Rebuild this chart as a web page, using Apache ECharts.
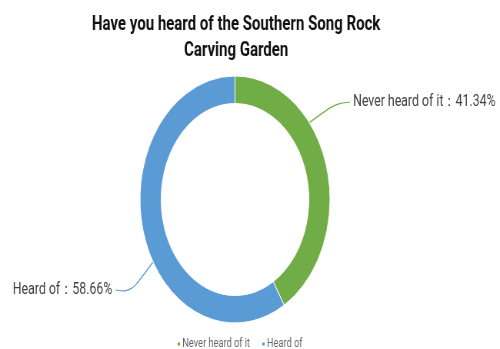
<!DOCTYPE html>
<html>
<head>
<meta charset="utf-8">
<script src="https://cdn.jsdelivr.net/npm/echarts@6/dist/echarts.min.js"></script>
<style>
  html, body { margin: 0; padding: 0; background: #fff; }
  #wrap { width: 500px; height: 349px; overflow: hidden; }
  /* the source picture is squeezed sideways, so draw wide and scale down */
  #main { width: 650px; height: 349px; transform: scaleX(0.7692); transform-origin: 0 0; }
</style>
</head>
<body>
<div id="wrap"><div id="main"></div></div>
<script>
var categories = ['Never heard of it', 'Heard of'];
var shares = [41.34, 58.66];
var colors = ['#70ad47', '#5b9bd5'];

var cx = 305.5, cy = 199.5, rIn = 96, rOut = 123.5;

// label placement (unscaled px) and the angle where the leader leaves the ring
var labelSpots = [
  { x: 459, y: 102, align: 'left', angle: 38.5, side: 1 },
  { x: 146, y: 290, align: 'right', angle: 210.4, side: -1 }
];

var chart = echarts.init(document.getElementById('main'));

var pieData = [];
for (var i = 0; i < categories.length; i++) {
  pieData.push({ name: categories[i], value: shares[i] });
}

chart.setOption({
  color: colors,
  title: {
    text: 'Have you heard of the Southern Song Rock\nCarving Garden',
    left: 302,
    textAlign: 'center',
    top: 7,
    textStyle: {
      fontFamily: 'Roboto',
      fontSize: 19.5,
      fontWeight: 'bold',
      color: '#111',
      lineHeight: 26
    }
  },
  legend: {
    data: categories,
    top: 333,
    left: 224,
    icon: 'rect',
    itemWidth: 5,
    itemHeight: 5,
    itemGap: 14,
    textStyle: { fontFamily: 'Roboto', fontSize: 12, color: '#666', padding: [0, 0, 0, -3] }
  },
  series: [
    {
      type: 'pie',
      center: [cx, cy],
      radius: [rIn, rOut],
      startAngle: 90,
      clockwise: true,
      avoidLabelOverlap: false,
      itemStyle: { borderColor: '#fff', borderWidth: 1 },
      label: {
        formatter: '{b}：{c}%',
        fontFamily: 'Roboto',
        fontSize: 16,
        color: '#404040'
      },
      labelLine: {
        show: true,
        smooth: 0.35,
        lineStyle: { width: 1.2 }
      },
      labelLayout: function (params) {
        var s = labelSpots[params.dataIndex];
        var a = s.angle * Math.PI / 180;
        var p0 = [cx + rOut * Math.cos(a), cy - rOut * Math.sin(a)];
        var p2 = [s.x - s.side * 4, s.y];
        var p1 = [p2[0] - s.side * 20, s.y + 2];
        return {
          x: s.x, y: s.y, align: s.align, verticalAlign: 'middle',
          labelLinePoints: [p0, p1, p2]
        };
      },
      data: pieData
    }
  ]
});
</script>
</body>
</html>
